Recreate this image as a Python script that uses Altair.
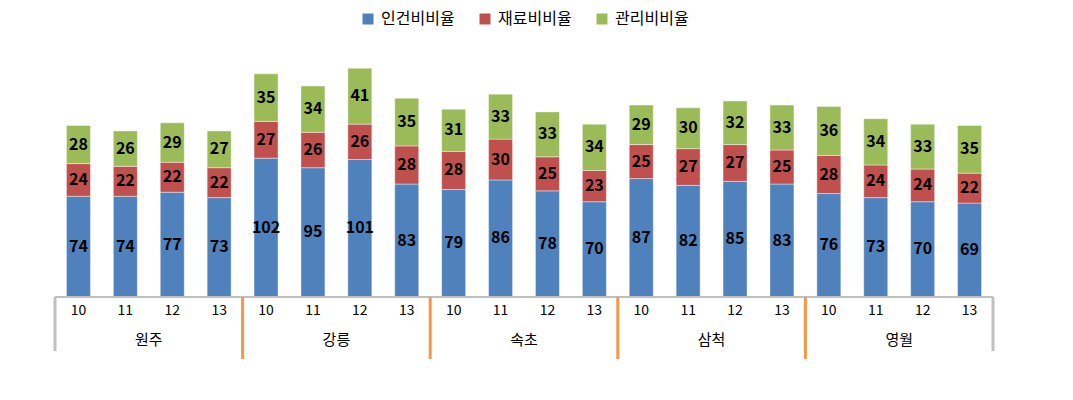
import altair as alt
import pandas as pd

cities = ["원주", "강릉", "속초", "삼척", "영월"]
years = ["10", "11", "12", "13"]
series = ["인건비비율", "재료비비율", "관리비비율"]
colors = ["#4f81bd", "#c0504d", "#9bbb59"]

labor = [74, 74, 77, 73, 102, 95, 101, 83, 79, 86, 78, 70, 87, 82, 85, 83, 76, 73, 70, 69]
material = [24, 22, 22, 22, 27, 26, 26, 28, 28, 30, 25, 23, 25, 27, 27, 25, 28, 24, 24, 22]
mgmt = [28, 26, 29, 27, 35, 34, 41, 35, 31, 33, 33, 34, 29, 30, 32, 33, 36, 34, 33, 35]

ny = len(years)
rows = []
for s_i, (name, vals) in enumerate(zip(series, [labor, material, mgmt])):
    for i, v in enumerate(vals):
        rows.append({"idx": i, "city": cities[i // ny], "year": years[i % ny],
                     "series": name, "ord": s_i, "value": v})
df = pd.DataFrame(rows)

ticks = pd.DataFrame({"idx": list(range(len(labor))),
                      "year": [years[i % ny] for i in range(len(labor))]})
groups = pd.DataFrame({"center": [g * ny + (ny - 1) / 2 for g in range(len(cities))],
                       "city": cities})
outer = pd.DataFrame({"pos": [-0.5, len(cities) * ny - 0.5]})
inner = pd.DataFrame({"pos": [g * ny - 0.5 for g in range(1, len(cities))]})
axisline = pd.DataFrame({"a": [-0.5], "b": [len(labor) - 0.5], "y": [0]})

W, H = 938, 245
xs = alt.Scale(domain=[-0.5, len(labor) - 0.5], nice=False, zero=False, padding=0)
ys = alt.Scale(domain=[0, 180], nice=False, padding=0)
FONT = "Noto Sans CJK KR"

base = alt.Chart(df).transform_stack(
    stack="value", groupby=["idx"], as_=["y0", "y1"], sort=[alt.SortField("ord")]
).transform_calculate(mid="(datum.y0 + datum.y1) / 2")

bars = base.mark_bar(size=24, stroke="white", strokeWidth=0.6, strokeOpacity=0.7).encode(
    x=alt.X("idx:Q", scale=xs, axis=None),
    y=alt.Y("y0:Q", scale=ys, axis=None),
    y2="y1:Q",
    color=alt.Color("series:N", scale=alt.Scale(domain=series, range=colors),
                    legend=alt.Legend(orient="none", legendX=305, legendY=-41,
                                      direction="horizontal", title=None,
                                      symbolType="square", symbolSize=121,
                                      symbolStrokeWidth=0, labelFontSize=16,
                                      labelFont=FONT, labelColor="#000",
                                      columnPadding=22, labelOffset=5)),
)

labels = base.mark_text(font=FONT, fontWeight="bold", fontSize=16,
                        color="#000", baseline="middle").encode(
    x=alt.X("idx:Q", scale=xs),
    y=alt.Y("mid:Q", scale=ys),
    text="value:Q",
)

xline = alt.Chart(axisline).mark_rule(color="#bfbfbf", strokeWidth=2).encode(
    x=alt.X("a:Q", scale=xs), x2="b:Q", y=alt.Y("y:Q", scale=ys))

sep_outer = alt.Chart(outer).mark_rule(strokeWidth=3, color="#bfbfbf").encode(
    x=alt.X("pos:Q", scale=xs), y=alt.value(H), y2=alt.value(H + 54))
sep_inner = alt.Chart(inner).mark_rule(strokeWidth=3, color="#f79646").encode(
    x=alt.X("pos:Q", scale=xs), y=alt.value(H), y2=alt.value(H + 62))

yearText = alt.Chart(ticks).mark_text(font=FONT, fontSize=14, color="#000",
                                      baseline="middle").encode(
    x=alt.X("idx:Q", scale=xs), y=alt.value(H + 14), text="year:N")

cityText = alt.Chart(groups).mark_text(font=FONT, fontSize=15, color="#000",
                                       baseline="middle").encode(
    x=alt.X("center:Q", scale=xs), y=alt.value(H + 43), text="city:N")

chart = alt.layer(bars, labels, xline, sep_outer, sep_inner, yearText, cityText).properties(
    width=W, height=H,
    autosize=alt.AutoSizeParams(type="none"),
    padding={"left": 55, "top": 52, "right": 1073 - 55 - W, "bottom": 400 - 52 - H},
).configure_view(stroke=None)

chart.save("out.html", embed_options={"renderer": "svg", "actions": False})
